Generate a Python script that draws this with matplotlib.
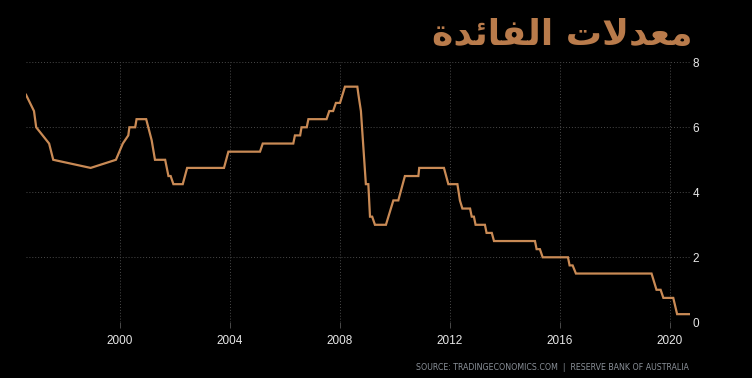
import matplotlib
matplotlib.use("Agg")
import matplotlib.pyplot as plt
import numpy as np

# cash rate (fractional year, percent)
years = [1996.58, 1996.87, 1996.95, 1997.42, 1997.57, 1998.93, 1999.85, 2000.10,
         2000.30, 2000.34, 2000.55, 2000.60, 2000.95, 2001.15, 2001.27, 2001.64,
         2001.76, 2001.84, 2001.94, 2002.28, 2002.44, 2003.78, 2003.94, 2005.09,
         2005.19, 2006.30, 2006.36, 2006.55, 2006.60, 2006.79, 2006.85, 2007.51,
         2007.61, 2007.75, 2007.85, 2008.00, 2008.18, 2008.63, 2008.67, 2008.76,
         2008.94, 2009.03, 2009.09, 2009.17, 2009.27, 2009.67, 2009.94, 2010.12,
         2010.36, 2010.85, 2010.88, 2011.78, 2011.94, 2012.27, 2012.36, 2012.45,
         2012.73, 2012.79, 2012.87, 2012.93, 2013.27, 2013.33, 2013.52, 2013.60,
         2015.09, 2015.15, 2015.27, 2015.37, 2016.29, 2016.35, 2016.46, 2016.58,
         2019.33, 2019.51, 2019.66, 2019.76, 2020.12, 2020.26, 2020.70]
rates = [7.0, 6.5, 6.0, 5.5, 5.0, 4.75, 5.0, 5.5,
         5.75, 6.0, 6.0, 6.25, 6.25, 5.6, 5.0, 5.0,
         4.5, 4.5, 4.25, 4.25, 4.75, 4.75, 5.25, 5.25,
         5.5, 5.5, 5.75, 5.75, 6.0, 6.0, 6.25, 6.25,
         6.5, 6.5, 6.75, 6.75, 7.25, 7.25, 7.0, 6.5,
         4.25, 4.25, 3.25, 3.25, 3.0, 3.0, 3.75, 3.75,
         4.5, 4.5, 4.75, 4.75, 4.25, 4.25, 3.75, 3.5,
         3.5, 3.25, 3.25, 3.0, 3.0, 2.75, 2.75, 2.5,
         2.5, 2.25, 2.25, 2.0, 2.0, 1.75, 1.75, 1.5,
         1.5, 1.0, 1.0, 0.75, 0.75, 0.25, 0.25]

x_ticks = [2000, 2004, 2008, 2012, 2016, 2020]
y_ticks = [0, 2, 4, 6, 8]

# "معدلات الفائدة" in presentation forms, visual order (matplotlib has no shaping)
title = "\uFE93\uFEAA\uFE8B\uFE8E\uFED4\uFEDF\uFE8D \uFE95\uFEFB\uFEAA\uFECC\uFEE3"
source = "SOURCE: TRADINGECONOMICS.COM  |  RESERVE BANK OF AUSTRALIA"

fig = plt.figure(figsize=(7.52, 3.78), dpi=100, facecolor="black")
ax = fig.add_axes([0.0346, 0.1474, 0.8830, 0.6878], facecolor="black")

ax.plot(years, rates, color="#c98a55", lw=1.6, solid_joinstyle="miter")

ax.set_xlim(1996.58, 2020.73)
ax.set_ylim(0, 8)
ax.set_xticks(x_ticks)
ax.set_yticks(y_ticks)
ax.yaxis.tick_right()
ax.grid(True, color="#4a4a4a", ls=(0, (1, 2)), lw=0.7)
ax.set_axisbelow(True)
for s in ax.spines.values():
    s.set_visible(False)
ax.tick_params(axis="x", colors="#4a4a4a", length=4, width=0.7, labelcolor="#e8e8e8",
               labelsize=8.5, pad=5)
ax.tick_params(axis="y", length=0, labelcolor="#e8e8e8", labelsize=8.5, pad=2)
for lab in ax.get_xticklabels() + ax.get_yticklabels():
    lab.set_family("Liberation Sans")

fig.text(0.921, 0.953, title, ha="right", va="top", fontsize=26, fontweight="bold",
         color="#b97b4b", family="DejaVu Sans")
fig.text(0.916, 0.027, source, ha="right", va="center", fontsize=5.7,
         color="#8a9098", family="DejaVu Sans")

fig.savefig("out.png", dpi=100, facecolor="black")
